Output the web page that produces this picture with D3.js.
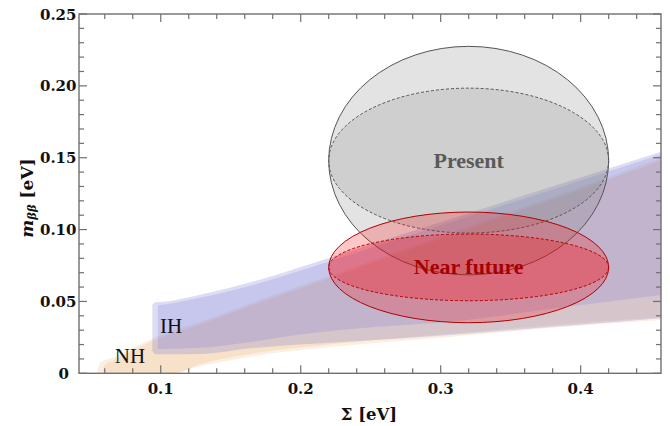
<!DOCTYPE html>
<html>
<head>
<meta charset="utf-8">
<script src="https://cdn.jsdelivr.net/npm/d3@7/dist/d3.min.js"></script>
<style>
  html, body { margin: 0; padding: 0; background: #fff; }
  svg { display: block; }
</style>
</head>
<body>
<svg id="chart" width="670" height="426"></svg>
<script>
// ---- data: effective Majorana mass vs. sum of neutrino masses ----
// Band edges as [Σ (eV), m_ββ (eV)] points.
const ihOuterUpper = [[0.0940,0.0475],[0.0963,0.0494],[0.1000,0.0496],[0.1281,0.0547],[0.1709,0.0651],[0.1995,0.0738],[0.2709,0.0962],[0.3424,0.1184],[0.4574,0.1542]];
const ihOuterLower = [[0.0940,0.0155],[0.0963,0.0132],[0.1281,0.0134],[0.1638,0.0174],[0.2352,0.0221],[0.3066,0.0267],[0.3781,0.0322],[0.4574,0.0383]];
const ihInnerUpper = [[0.0979,0.0472],[0.1000,0.0475],[0.1281,0.0526],[0.1709,0.0628],[0.1995,0.0714],[0.2709,0.0938],[0.3424,0.1161],[0.4574,0.1523]];
const ihInnerLower = [[0.0979,0.0169],[0.1281,0.0177],[0.1638,0.0218],[0.1995,0.0270],[0.2531,0.0322],[0.3066,0.0359],[0.3781,0.0447],[0.4574,0.0545]];

const nhOuterUpper = [[0.0549,0.0000],[0.0556,0.0044],[0.0566,0.0072],[0.0674,0.0116],[0.0802,0.0176],[0.0940,0.0242],[0.1281,0.0357],[0.1709,0.0510],[0.2186,0.0672],[0.3066,0.0976],[0.4209,0.1368],[0.4574,0.1498]];
const nhOuterLower = [[0.0549,0.0000],[0.1065,0.0000],[0.1281,0.0050],[0.1638,0.0116],[0.2352,0.0195],[0.3066,0.0253],[0.3781,0.0315],[0.4574,0.0371]];
const nhInnerUpper = [[0.0588,0.0000],[0.0595,0.0051],[0.0674,0.0096],[0.0802,0.0159],[0.0940,0.0225],[0.1281,0.0340],[0.1709,0.0493],[0.2186,0.0656],[0.3066,0.0959],[0.4209,0.1352],[0.4574,0.1481]];
const nhInnerLower = [[0.0588,0.0000],[0.1100,0.0000],[0.1281,0.0065],[0.1638,0.0135],[0.2352,0.0215],[0.3066,0.0275],[0.3781,0.0335],[0.4574,0.0390]];

// Sensitivity ellipses
const ellipseNames   = ["Present", "Near future"];
const ellipseSigma   = [0.32, 0.32];     // centre Σ
const ellipseMass    = [0.148, 0.0737];  // centre m_ββ
const ellipseHalfSig = [0.10, 0.10];     // half-width in Σ
const ellipseHalfM   = [0.0795, 0.0385]; // outer half-height in m_ββ
const ellipseInnerM  = [0.0504, 0.0232]; // dashed half-height in m_ββ

// Axes
const xDomain = [0.0416, 0.4574];
const yDomain = [0, 0.25];
const xMajor = [0.1, 0.2, 0.3, 0.4];
const xMinor = [0.06, 0.08, 0.12, 0.14, 0.16, 0.18, 0.22, 0.24, 0.26, 0.28, 0.32, 0.34, 0.36, 0.38, 0.42, 0.44];
const yMajor = [0, 0.05, 0.10, 0.15, 0.20, 0.25];
const yMinor = [0.01,0.02,0.03,0.04,0.06,0.07,0.08,0.09,0.11,0.12,0.13,0.14,0.16,0.17,0.18,0.19,0.21,0.22,0.23,0.24];
const xTickLabels = ["0.1", "0.2", "0.3", "0.4"];
const yTickLabels = ["0", "0.05", "0.10", "0.15", "0.20", "0.25"];

// ---- drawing ----
const svg = d3.select("#chart");
const L = 79, R = 661, T = 14, B = 373.3;
const x = d3.scaleLinear().domain(xDomain).range([L, R]);
const y = d3.scaleLinear().domain(yDomain).range([B, T]);

const defs = svg.append("defs");
defs.append("clipPath").attr("id", "plotclip")
  .append("rect").attr("x", L).attr("y", T).attr("width", R - L).attr("height", B - T);

const plot = svg.append("g").attr("clip-path", "url(#plotclip)");
// smooth each edge separately, then join them into one closed outline
const edge = d3.line().x(d => x(d[0])).y(d => y(d[1])).curve(d3.curveMonotoneX);
const band = (upper, lower) =>
  edge(upper) + edge(lower.slice().reverse()).replace(/^M/, "L") + "Z";

const NH = "rgb(235,178,118)";
const IH = "rgb(117,117,210)";
plot.append("path").attr("d", band(nhOuterUpper, nhOuterLower)).attr("fill", NH).attr("fill-opacity", 0.21);
plot.append("path").attr("d", band(nhInnerUpper, nhInnerLower)).attr("fill", NH).attr("fill-opacity", 0.24);
plot.append("path").attr("d", band(ihOuterUpper, ihOuterLower)).attr("fill", IH).attr("fill-opacity", 0.25);
plot.append("path").attr("d", band(ihInnerUpper, ihInnerLower)).attr("fill", IH).attr("fill-opacity", 0.2);

// band labels
plot.append("text").attr("x", x(0.0995)).attr("y", y(0.0282))
  .attr("font-family", "Liberation Serif").attr("font-size", 21).attr("fill", "#111").text("IH");
plot.append("text").attr("x", x(0.0672)).attr("y", y(0.0069))
  .attr("font-family", "Liberation Serif").attr("font-size", 21).attr("fill", "#111").text("NH");

// ellipses
const styles = [
  { fill: "#808080", op1: 0.22, op2: 0.2, stroke: "#555", text: "#5a5a5a" },
  { fill: "#ff0000", op1: 0.22, op2: 0.24, stroke: "#b00000", text: "#a80000" }
];
ellipseNames.forEach((name, i) => {
  const s = styles[i];
  const g = plot.append("g");
  const cx = x(ellipseSigma[i]), cy = y(ellipseMass[i]);
  const rx = x(ellipseSigma[i] + ellipseHalfSig[i]) - cx;
  const ry = y(ellipseMass[i] - ellipseHalfM[i]) - cy;
  const ryi = y(ellipseMass[i] - ellipseInnerM[i]) - cy;
  g.append("ellipse").attr("cx", cx).attr("cy", cy).attr("rx", rx).attr("ry", ry)
    .attr("fill", s.fill).attr("fill-opacity", s.op1);
  g.append("ellipse").attr("cx", cx).attr("cy", cy).attr("rx", rx).attr("ry", ryi)
    .attr("fill", s.fill).attr("fill-opacity", s.op2);
  g.append("ellipse").attr("cx", cx).attr("cy", cy).attr("rx", rx).attr("ry", ry)
    .attr("fill", "none").attr("stroke", s.stroke).attr("stroke-width", 1);
  g.append("ellipse").attr("cx", cx).attr("cy", cy).attr("rx", rx).attr("ry", ryi)
    .attr("fill", "none").attr("stroke", s.stroke).attr("stroke-width", 1)
    .attr("stroke-dasharray", "3,2");
});
ellipseNames.forEach((name, i) => {
  plot.append("text").attr("x", x(ellipseSigma[i])).attr("y", y(ellipseMass[i]) + 7)
    .attr("text-anchor", "middle").attr("font-family", "Liberation Serif")
    .attr("font-weight", "bold").attr("font-size", 22).attr("fill", styles[i].text).text(name);
});

// frame and ticks (inward on all four sides)
const axisColor = "#707070";
const fr = svg.append("g").attr("stroke", axisColor).attr("fill", "none");
fr.append("rect").attr("x", L).attr("y", T).attr("width", R - L).attr("height", B - T).attr("stroke-width", 1.4);
const xt = xMajor.map(v => [v, 8]).concat(xMinor.map(v => [v, 5]));
const yt = yMajor.map(v => [v, 8]).concat(yMinor.map(v => [v, 5]));
xt.forEach(([v, len]) => {
  fr.append("line").attr("x1", x(v)).attr("x2", x(v)).attr("y1", B).attr("y2", B - len).attr("stroke-width", 1.2);
  fr.append("line").attr("x1", x(v)).attr("x2", x(v)).attr("y1", T).attr("y2", T + len).attr("stroke-width", 1.2);
});
yt.forEach(([v, len]) => {
  fr.append("line").attr("y1", y(v)).attr("y2", y(v)).attr("x1", L).attr("x2", L + len).attr("stroke-width", 1.2);
  fr.append("line").attr("y1", y(v)).attr("y2", y(v)).attr("x1", R).attr("x2", R - len).attr("stroke-width", 1.2);
});

// tick labels
const tf = { family: "DejaVu Serif", size: 15 };
xMajor.forEach((v, i) => {
  svg.append("text").attr("x", x(v)).attr("y", 393.5).attr("text-anchor", "middle")
    .attr("font-family", tf.family).attr("font-weight", "bold").attr("font-size", tf.size)
    .attr("fill", "#111").text(xTickLabels[i]);
});
yMajor.forEach((v, i) => {
  svg.append("text").attr("x", v === 0 ? 69 : 76.5).attr("y", y(v) + 5.5).attr("text-anchor", "end")
    .attr("font-family", tf.family).attr("font-weight", "bold").attr("font-size", tf.size)
    .attr("fill", "#111").text(yTickLabels[i]);
});

// axis titles
svg.append("text").attr("x", 369).attr("y", 420).attr("text-anchor", "middle")
  .attr("font-family", "DejaVu Serif").attr("font-weight", "bold").attr("font-size", 16.5)
  .attr("fill", "#111").text("Σ [eV]");

const yl = svg.append("text").attr("transform", "translate(33,198) rotate(-90)")
  .attr("text-anchor", "middle").attr("font-family", "DejaVu Serif").attr("font-weight", "bold")
  .attr("font-size", 17).attr("fill", "#111");
yl.append("tspan").attr("font-style", "italic").text("m");
yl.append("tspan").attr("font-style", "italic").attr("font-size", 11.5).attr("dy", 3).text("ββ");
yl.append("tspan").attr("dy", -3).text(" [eV]");
</script>
</body>
</html>
